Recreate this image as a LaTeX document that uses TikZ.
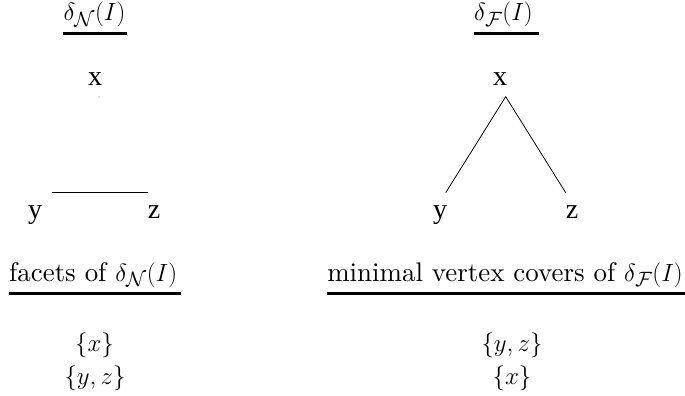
\documentclass[tikz,border=0pt]{standalone}
\usepackage{fontspec}
\newfontfamily\tms{Liberation Serif}
\newfontfamily\lmten{lmroman10-regular.otf}
\newcommand{\bigtxt}[1]{{\fontsize{26.9}{32}\selectfont #1}}
\begin{document}
\begin{tikzpicture}[x=1pt,y=-1pt,
  title/.style={inner sep=0pt,anchor=base,font=\fontsize{24.88}{30}\selectfont\lmten},
  vtx/.style={inner sep=0pt,anchor=base,font=\fontsize{28}{32}\selectfont\tms},
  setnode/.style={inner sep=0pt,anchor=base,font=\fontsize{24.88}{30}\selectfont},
  ul/.style={line width=3pt},
  edge/.style={line width=0.8pt}]
\useasboundingbox (0,0) rectangle (685,396);
% top titles
\node[title] (tl) at (94.5,20.7) {$\delta_{\mathcal N}(I)$};
\node[title] (tr) at (503.5,20.7) {$\delta_{\mathcal F}(I)$};
\draw[ul] ([yshift=-12.6pt]tl.base west) -- ([xshift=1pt,yshift=-12.6pt]tl.base east);
\draw[ul] ([yshift=-12.6pt]tr.base west) -- ([xshift=6pt,yshift=-12.6pt]tr.base east);
% left graph
\node[vtx] (lx) at (95,85) {x};
\node[vtx] (ly) at (35,218) {y};
\node[vtx] (lz) at (154,218) {z};
\fill[gray] ([xshift=4pt,yshift=-12pt]lx.base) circle (0.6pt);
\coordinate (lyr) at ([xshift=17pt,yshift=25.3pt]ly.base);
\coordinate (lzl) at ([xshift=-6pt,yshift=25.3pt]lz.base);
\draw[edge] (lyr) -- (lzl);
% right graph
\node[vtx] (rx) at (500,85) {x};
\node[vtx] (ry) at (440,218) {y};
\node[vtx] (rz) at (572,218) {z};
\coordinate (rapex) at ([xshift=5.7pt,yshift=-11.7pt]rx.base);
\coordinate (rytop) at ([xshift=5.7pt,yshift=25.3pt]ry.base);
\coordinate (rztop) at ([xshift=-6.3pt,yshift=25.3pt]rz.base);
\draw[edge] (rytop) -- (rapex) -- (rztop);
% bottom titles
\node[title,anchor=base west] (bl) at (9,281) {\bigtxt{facets of }$\delta_{\mathcal N}(I)$};
\node[title,anchor=base east] (br) at (683,281) {\bigtxt{minimal vertex covers of }$\delta_{\mathcal F}(I)$};
\draw[ul] ([yshift=-12.3pt]bl.base west) -- ([xshift=4pt,yshift=-12.3pt]bl.base east);
\draw[ul] ([yshift=-12.3pt]br.base west) -- ([xshift=2pt,yshift=-12.3pt]br.base east);
% sets
\node[setnode] (s1) at (94.5,351) {$\{x\}$};
\node[setnode] (s2) at (95,384) {$\{y,z\}$};
\node[setnode] (s3) at (512,351) {$\{y,z\}$};
\node[setnode] (s4) at (512,384) {$\{x\}$};
\end{tikzpicture}
\end{document}
